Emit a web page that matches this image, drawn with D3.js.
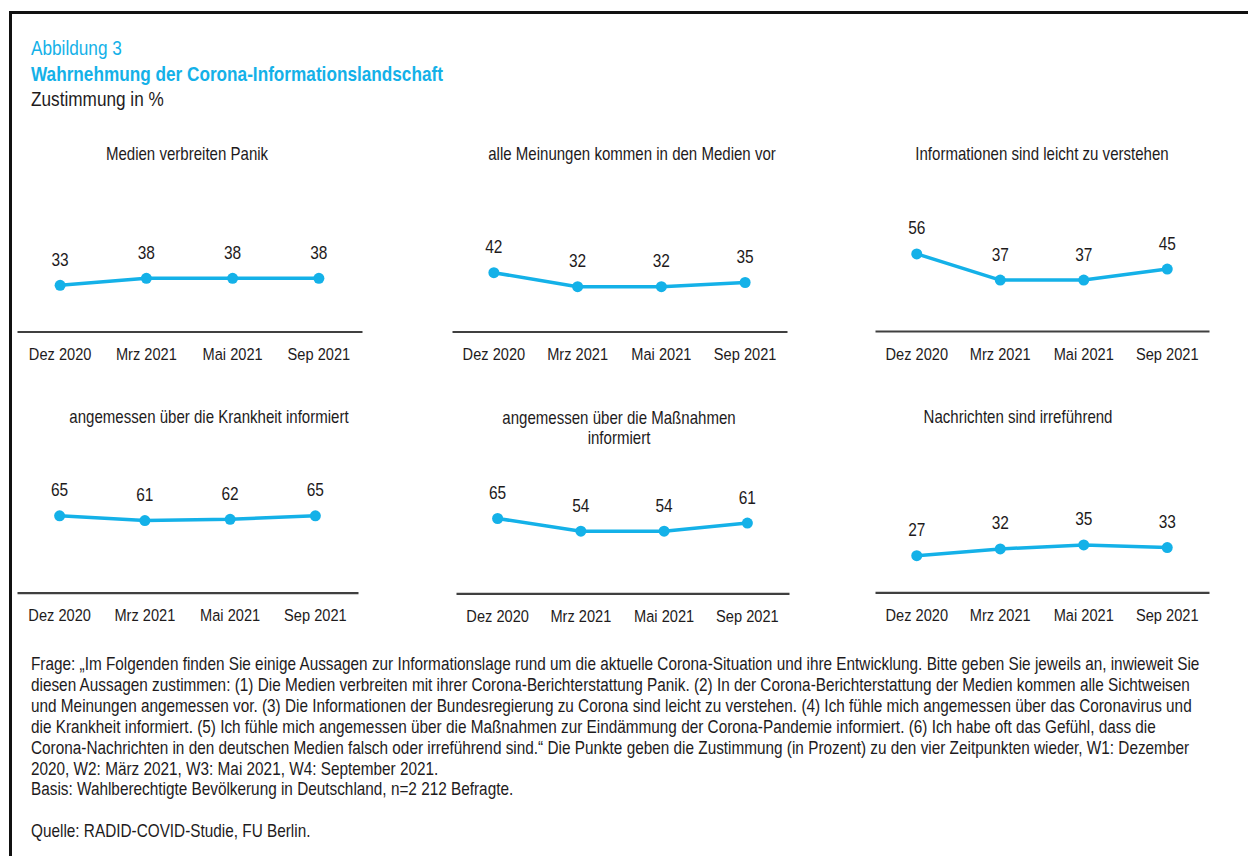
<!DOCTYPE html>
<html><head><meta charset="utf-8">
<script src="https://cdn.jsdelivr.net/npm/d3@7"></script>
<style>
html,body{margin:0;padding:0;background:#fff;}
svg{display:block;font-family:"Liberation Sans",Arial,sans-serif;}
</style></head>
<body>
<svg id="chart" width="1248" height="856"></svg>
<script>
// ---------- data ----------
const categories = ["Dez 2020", "Mrz 2021", "Mai 2021", "Sep 2021"];
const panelTitles = [
  ["Medien verbreiten Panik"],
  ["alle Meinungen kommen in den Medien vor"],
  ["Informationen sind leicht zu verstehen"],
  ["angemessen über die Krankheit informiert"],
  ["angemessen über die Maßnahmen", "informiert"],
  ["Nachrichten sind irreführend"]
];
const seriesMedienPanik = [33, 38, 38, 38];
const seriesAlleMeinungen = [42, 32, 32, 35];
const seriesLeichtVerstehen = [56, 37, 37, 45];
const seriesKrankheit = [65, 61, 62, 65];
const seriesMassnahmen = [65, 54, 54, 61];
const seriesIrrefuehrend = [27, 32, 35, 33];
const seriesAll = [seriesMedienPanik, seriesAlleMeinungen, seriesLeichtVerstehen,
                   seriesKrankheit, seriesMassnahmen, seriesIrrefuehrend];

const headingLines = ["Abbildung 3", "Wahrnehmung der Corona-Informationslandschaft", "Zustimmung in %"];
const footnoteLines = [
  "Frage: „Im Folgenden finden Sie einige Aussagen zur Informationslage rund um die aktuelle Corona-Situation und ihre Entwicklung. Bitte geben Sie jeweils an, inwieweit Sie",
  "diesen Aussagen zustimmen: (1) Die Medien verbreiten mit ihrer Corona-Berichterstattung Panik. (2) In der Corona-Berichterstattung der Medien kommen alle Sichtweisen",
  "und Meinungen angemessen vor. (3) Die Informationen der Bundesregierung zu Corona sind leicht zu verstehen. (4) Ich fühle mich angemessen über das Coronavirus und",
  "die Krankheit informiert. (5) Ich fühle mich angemessen über die Maßnahmen zur Eindämmung der Corona-Pandemie informiert. (6) Ich habe oft das Gefühl, dass die",
  "Corona-Nachrichten in den deutschen Medien falsch oder irreführend sind.“ Die Punkte geben die Zustimmung (in Prozent) zu den vier Zeitpunkten wieder, W1: Dezember",
  "2020, W2: März 2021, W3: Mai 2021, W4: September 2021.",
  "Basis: Wahlberechtigte Bevölkerung in Deutschland, n=2 212 Befragte.",
  "",
  "Quelle: RADID-COVID-Studie, FU Berlin."
];

// ---------- layout / style ----------
const BLUE = "#14b1e8";
const TEXT = "#1e1b1c";
const SX = 0.86; // horizontal condensing of the font
const layout = [
  {x0: 17,  x1: 362,  axisY: 331.5, yMax: 60, titleX: 187,  titleY: 160},
  {x0: 452, x1: 787,  axisY: 331.5, yMax: 60, titleX: 632,  titleY: 160},
  {x0: 875, x1: 1209, axisY: 331,   yMax: 61, titleX: 1042, titleY: 160},
  {x0: 17,  x1: 358,  axisY: 592.7, yMax: 71, titleX: 209,  titleY: 423},
  {x0: 456, x1: 789,  axisY: 593.3, yMax: 73, titleX: 619,  titleY: 424},
  {x0: 875, x1: 1209, axisY: 592.3, yMax: 62, titleX: 1018, titleY: 423}
];
const plotH = 84;

const svg = d3.select("#chart");

function addText(parent, x, y, str, size, opts = {}) {
  const g = parent.append("g").attr("transform", `translate(${x},${y}) scale(${SX},1)`);
  return g.append("text")
    .attr("x", 0).attr("y", 0)
    .attr("font-size", size)
    .attr("font-weight", opts.weight || "normal")
    .attr("fill", opts.fill || TEXT)
    .attr("text-anchor", opts.anchor || "start")
    .text(str);
}

// frame
svg.append("rect")
  .attr("x", 10.5).attr("y", 12.5)
  .attr("width", 1260).attr("height", 870)
  .attr("fill", "none").attr("stroke", "#111").attr("stroke-width", 3);

// heading
addText(svg, 31, 55, headingLines[0], 20, {fill: BLUE});
addText(svg, 31, 81, headingLines[1], 20, {fill: BLUE, weight: "bold"});
addText(svg, 31, 106, headingLines[2], 20, {fill: TEXT});

// panels
seriesAll.forEach((vals, i) => {
  const L = layout[i];
  const g = svg.append("g");
  const x = d3.scaleBand().domain(categories).range([L.x0, L.x1]);
  const y = d3.scaleLinear().domain([0, L.yMax]).range([L.axisY, L.axisY - plotH]);
  const cx = c => x(c) + x.bandwidth() / 2;

  // title
  panelTitles[i].forEach((t, k) => addText(g, L.titleX, L.titleY + k * 20, t, 17.5, {anchor: "middle"}));

  // axis
  const axis = d3.axisBottom(x).tickSize(0).tickPadding(0);
  const ag = g.append("g").attr("transform", `translate(0,${L.axisY})`).call(axis);
  ag.select(".domain").attr("stroke", "#404040").attr("stroke-width", 2.2);
  ag.selectAll(".tick text").remove();
  ag.selectAll(".tick").each(function(d) {
    addText(d3.select(this), 0, 28.5, d, 17, {anchor: "middle"});
  });

  const data = categories.map((c, j) => ({c, v: vals[j]}));
  const line = d3.line().x(d => cx(d.c)).y(d => y(d.v));
  g.append("path").datum(data)
    .attr("d", line).attr("fill", "none")
    .attr("stroke", BLUE).attr("stroke-width", 3.5)
    .attr("stroke-linejoin", "round");
  g.selectAll("circle.pt").data(data).join("circle")
    .attr("class", "pt")
    .attr("cx", d => cx(d.c)).attr("cy", d => y(d.v))
    .attr("r", 5.5).attr("fill", BLUE);
  data.forEach(d => addText(g, cx(d.c), y(d.v) - 19.5, String(d.v), 18, {anchor: "middle"}));
});

// footnote
footnoteLines.forEach((t, k) => {
  if (t) addText(svg, 31, 670 + k * 20.9, t, 17.85, {fill: TEXT});
});
</script>
</body></html>
